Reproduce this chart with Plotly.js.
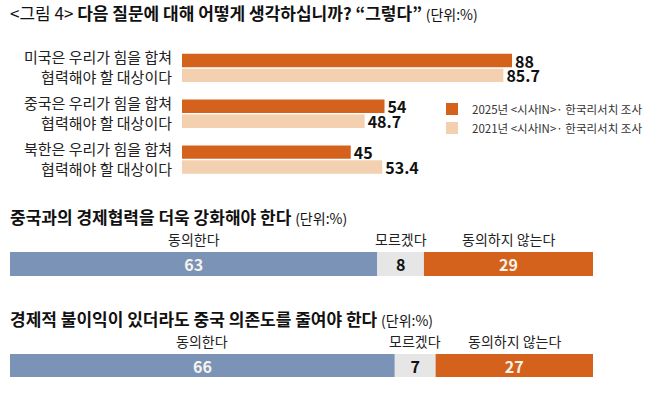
<!DOCTYPE html>
<html>
<head>
<meta charset="utf-8">
<script src="https://cdn.plot.ly/plotly-3.0.1.min.js"></script>
<style>html,body{margin:0;padding:0;background:#fff;}#chart{width:658px;height:395px;}</style>
</head>
<body>
<div id="chart"></div>
<script>
// ---- data ----
const topCategories = [
  '미국은 우리가 힘을 합쳐<br>협력해야 할 대상이다',
  '중국은 우리가 힘을 합쳐<br>협력해야 할 대상이다',
  '북한은 우리가 힘을 합쳐<br>협력해야 할 대상이다'
];
const values2025 = [88, 54, 45];
const values2021 = [85.7, 48.7, 53.4];
const seriesNames = ['2025년 &lt;시사IN&gt;· 한국리서치 조사', '2021년 &lt;시사IN&gt;· 한국리서치 조사'];

const segmentLabels = ['동의한다', '모르겠다', '동의하지 않는다'];
const question1 = '중국과의 경제협력을 더욱 강화해야 한다';
const question1Values = [63, 8, 29];
const question2 = '경제적 불이익이 있더라도 중국 의존도를 줄여야 한다';
const question2Values = [66, 7, 27];

const mainTitle = '다음 질문에 대해 어떻게 생각하십니까? “그렇다”';
const figLabel = '&lt;그림 4&gt;';
const unitLabel = '(단위:%)';

// ---- styles ----
const FONT = '"Noto Sans CJK KR", "Noto Sans", sans-serif';
const ORANGE = '#D4621C';
const PEACH = '#F2D0B0';
const BLUE = '#7B93B6';
const GRAY = '#E6E6E6';
const W = 658, H = 395;
const px = v => v / W;
const py = v => 1 - v / H;

function cumBase(vals) {
  const out = []; let s = 0;
  vals.forEach(v => { out.push(s); s += v; });
  return out;
}

const segColors = [BLUE, GRAY, ORANGE];
const segTextColors = ['#F7F3EC', '#111111', '#F7F3EC'];

function stackTrace(vals, q, xa, ya) {
  return {
    type: 'bar', orientation: 'h',
    x: vals, y: vals.map(() => q), base: cumBase(vals),
    width: 1,
    xaxis: xa, yaxis: ya,
    marker: { color: segColors, line: { width: 0 } },
    text: vals.map(String), textposition: 'inside', insidetextanchor: 'middle',
    textangle: 0,
    textfont: { family: FONT, size: 16, color: segTextColors, weight: 'bold' },
    constraintext: 'none',
    showlegend: false, hoverinfo: 'skip'
  };
}

const traces = [
  {
    type: 'bar', orientation: 'h', name: seriesNames[0],
    x: values2025, y: topCategories,
    marker: { color: ORANGE },
    text: values2025.map(String), textposition: 'outside', textangle: 0,
    textfont: { family: FONT, size: 16, color: '#111', weight: 'bold' },
    constraintext: 'none', cliponaxis: false, hoverinfo: 'skip'
  },
  {
    type: 'bar', orientation: 'h', name: seriesNames[1],
    x: values2021, y: topCategories,
    marker: { color: PEACH },
    text: values2021.map(String), textposition: 'outside', textangle: 0,
    textfont: { family: FONT, size: 16, color: '#111', weight: 'bold' },
    constraintext: 'none', cliponaxis: false, hoverinfo: 'skip'
  },
  stackTrace(question1Values, question1, 'x2', 'y2'),
  stackTrace(question2Values, question2, 'x3', 'y3')
];

function segAnnotations(vals, q, xa, ya) {
  const base = cumBase(vals);
  return vals.map((v, i) => ({
    xref: xa, yref: ya + ' domain', x: base[i] + v / 2, y: 1,
    xanchor: 'center', yanchor: 'bottom', yshift: 1,
    text: segmentLabels[i], showarrow: false,
    font: { family: FONT, size: 14, color: '#222' }
  }));
}

function titleAnn(text, yc) {
  return {
    xref: 'paper', yref: 'paper', x: px(8), y: py(yc),
    xanchor: 'left', yanchor: 'middle', showarrow: false, align: 'left',
    text: text, font: { family: FONT, size: 17, color: '#111' }
  };
}

const unitHtml = ' <span style="font-size:14px">' + unitLabel + '</span>';
const annotations = [
  titleAnn(figLabel + ' <b>' + mainTitle + '</b>' + unitHtml, 13),
  titleAnn('<b>' + question1 + '</b>' + unitHtml, 216),
  titleAnn('<b>' + question2 + '</b>' + unitHtml, 318),
  ...segAnnotations(question1Values, question1, 'x2', 'y2'),
  ...segAnnotations(question2Values, question2, 'x3', 'y3')
];

const hiddenX = { range: [0, 100], showgrid: false, zeroline: false, showticklabels: false, showline: false, ticks: '', fixedrange: true };

const layout = {
  width: W, height: H,
  margin: { l: 0, r: 0, t: 0, b: 0 },
  paper_bgcolor: '#fff', plot_bgcolor: 'rgba(0,0,0,0)',
  font: { family: FONT, color: '#222' },
  barmode: 'group', bargap: 0.35, bargroupgap: 0.1,
  showlegend: true,
  legend: {
    x: px(432), y: py(94.5), xanchor: 'left', yanchor: 'top',
    bgcolor: 'rgba(0,0,0,0)', font: { family: FONT, size: 11.5, color: '#333' },
    traceorder: 'normal', tracegroupgap: 0
  },
  xaxis: Object.assign({}, hiddenX, { domain: [px(182), px(557)], anchor: 'y' }),
  yaxis: {
    domain: [py(182.4), py(45.1)], anchor: 'x', type: 'category',
    range: [2.5, -0.5], showgrid: false, zeroline: false, showline: false, ticks: '',
    tickfont: { family: FONT, size: 15, color: '#222' }, ticklabelstandoff: 9, fixedrange: true
  },
  xaxis2: Object.assign({}, hiddenX, { domain: [px(10), px(593)], anchor: 'y2' }),
  yaxis2: { domain: [py(276), py(252)], anchor: 'x2', type: 'category', range: [-0.5, 0.5], visible: false, fixedrange: true },
  xaxis3: Object.assign({}, hiddenX, { domain: [px(10), px(593)], anchor: 'y3' }),
  yaxis3: { domain: [py(377), py(354)], anchor: 'x3', type: 'category', range: [-0.5, 0.5], visible: false, fixedrange: true },
  annotations: annotations
};

Plotly.newPlot('chart', traces, layout, { staticPlot: true, displayModeBar: false });
</script>
</body>
</html>
